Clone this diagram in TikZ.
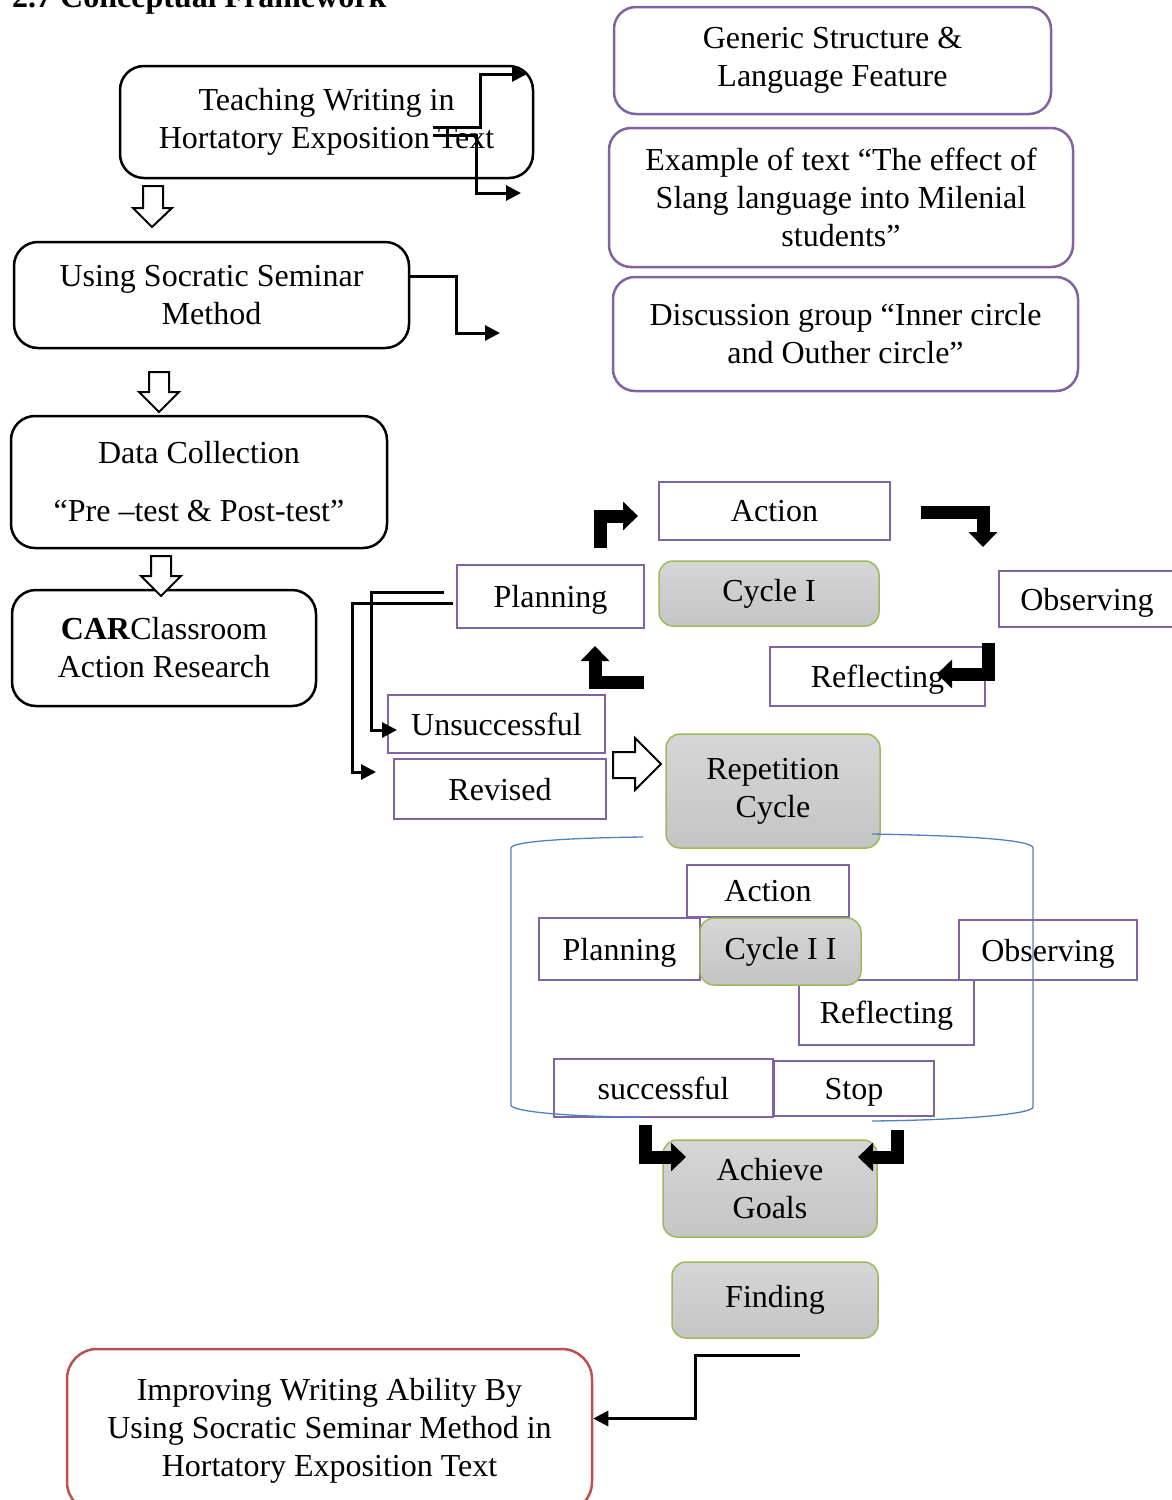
\documentclass[tikz,border=0pt]{standalone}
\usepackage{fontspec}
\setmainfont{Liberation Serif}
\usepackage{xcolor}
\usepackage{tikz}
\usetikzlibrary{arrows.meta, calc}
\definecolor{BoxPurple}{rgb}{0.50, 0.39, 0.64}
\definecolor{LeafGreen}{rgb}{0.61, 0.73, 0.35}
\definecolor{SoftRed}{rgb}{0.75, 0.31, 0.30}
\definecolor{LineBlue}{rgb}{0.31, 0.51, 0.74}

\begin{document}
\begin{tikzpicture}[x=1pt, y=-1pt, font=\fontsize{32}{38}\selectfont,
		every node/.style={align=center, inner sep=0pt},
		blackbox/.style={draw, line width=2.5pt, rounded corners=24pt},
		purplebox/.style={draw=BoxPurple, line width=2.5pt, rounded corners=22pt},
		stage/.style={draw=BoxPurple, line width=2.5pt, fill=white, text depth=0pt},
		greybox/.style={draw=LeafGreen, line width=1.5pt, rounded corners=14pt, top color=gray!32, bottom color=gray!46},
		redbox/.style={draw=SoftRed, line width=2.5pt, rounded corners=30pt},
		linkarrow/.style={line width=3pt, -{Triangle[length=15pt, width=15pt]}},
		blockarrow/.style={line width=13pt, -{Triangle[length=15pt, width=28pt]}},
		hollowarrow/.style={draw, line width=2pt, fill=white}]
		\useasboundingbox (0,0) rectangle (1172,1500);
		
		\node [anchor=base west, font=\fontsize{32}{38}\selectfont\bfseries] (title) at (12,7) {2.7 Conceptual Framework};
		
		\node [blackbox, minimum width=413pt, minimum height=112pt] (teach) at (326.5,122) {Teaching Writing in\\Hortatory Exposition Text};
		\node [blackbox, minimum width=395pt, minimum height=106pt] (using) at (211.5,295) {Using Socratic Seminar\\Method};
		\node [blackbox, minimum width=376pt, minimum height=132pt] (data) at (199,482) {Data Collection\\[20pt]“Pre –test \& Post-test”};
		\node [blackbox, minimum width=304pt, minimum height=116pt] (car) at (164,648) {\textbf{CAR}Classroom\\Action Research};
		
		\node [purplebox, minimum width=437pt, minimum height=107pt] (generic) at (832.5,60.5) {Generic Structure \&\\Language Feature};
		\node [purplebox, minimum width=464pt, minimum height=139pt] (example) at (841,197.5) {Example of text “The effect of\\Slang language into Milenial\\students”};
		\node [purplebox, minimum width=465pt, minimum height=114pt] (discuss) at (845.5,334) {Discussion group “Inner circle\\and Outher circle”};
		
		\node [stage, minimum width=231pt, minimum height=58pt] (actone) at (774.5,511) {Action};
		\node [stage, minimum width=187pt, minimum height=63pt] (planone) at (550.5,596.5) {Planning};
		\node [greybox, minimum width=220pt, minimum height=65pt] (cycone) at (769,593.5) {Cycle I};
		\node [stage, minimum width=176pt, minimum height=56pt] (obsone) at (1087,599) {Observing};
		\node [stage, minimum width=215pt, minimum height=59pt] (reflone) at (877.5,676.5) {Reflecting};
		\node [stage, minimum width=217pt, minimum height=58pt] (unsucc) at (496.5,724) {Unsuccessful};
		\node [stage, minimum width=212pt, minimum height=60pt] (revised) at (500,789) {Revised};
		\node [greybox, minimum width=214pt, minimum height=114pt] (repeat) at (773,791) {Repetition\\Cycle};
		
		\node [stage, minimum width=162pt, minimum height=52pt] (acttwo) at (768,891) {Action};
		\node [stage, minimum width=161pt, minimum height=62pt] (plantwo) at (619.5,949) {Planning};
		\node [stage, minimum width=175pt, minimum height=65pt] (refltwo) at (886.5,1012.5) {Reflecting};
		\node [stage, minimum width=178pt, minimum height=60pt] (obstwo) at (1048,950) {Observing};
		\node [greybox, minimum width=161pt, minimum height=67pt] (cyctwo) at (780.5,951.5) {Cycle I I};
		\node [stage, minimum width=219pt, minimum height=58pt] (succ) at (663.5,1088) {successful};
		\node [stage, minimum width=160pt, minimum height=55pt] (stop) at (854,1088.5) {Stop};
		
		\node [greybox, minimum width=214pt, minimum height=97pt] (achieve) at (770,1188.5) {Achieve\\Goals};
		\node [greybox, minimum width=206pt, minimum height=76pt] (finding) at (775,1300) {Finding};
		\node [redbox, minimum width=525pt, minimum height=163pt] (improve) at (329.5,1430.5) {Improving Writing Ability By\\Using Socratic Seminar Method in\\Hortatory Exposition Text};
		
		\draw [LineBlue, line width=1.3pt] (643,837) .. controls (560,838) and (511,842) .. (511,848) -- (511,1105) .. controls (511,1112) and (575,1117) .. (643,1117);
		\draw [LineBlue, line width=1.3pt] (872,834) .. controls (985,836) and (1033,841) .. (1033,848) -- (1033,1107) .. controls (1033,1114) and (965,1120) .. (872,1121);
		
		\draw [hollowarrow] (143,186) -- (163,186) -- (163,208) -- (172,208) -- (152,227) -- (133,208) -- (143,208) -- cycle;
		\draw [hollowarrow] (149,372) -- (169,372) -- (169,392) -- (179,392) -- (159,412) -- (139,392) -- (149,392) -- cycle;
		\draw [hollowarrow] (151,556) -- (171,556) -- (171,576) -- (181,576) -- (161,596) -- (141,576) -- (151,576) -- cycle;
		\draw [hollowarrow] (613,752) -- (635,752) -- (635,738) -- (661,764) -- (635,790) -- (635,778) -- (613,778) -- cycle;
		
		\coordinate (tina) at (433,127);
		\coordinate (tinb) at (527,74);
		\coordinate (touta) at (433,135);
		\coordinate (toutb) at (521,193);
		\coordinate (useb) at (500,333);
		\coordinate (plana) at (444,592);
		\coordinate (planb) at (453,603);
		\coordinate (unsb) at (397,730);
		\coordinate (revb) at (376,772);
		\coordinate (finda) at (800,1355);
		
		\draw [linkarrow] (tina) -- ++(47,0) |- (tinb);
		\draw [linkarrow] (touta) -- ++(43,0) |- (toutb);
		\draw [linkarrow] ($(using.east)+(0,-19)$) -- ++(46,0) |- (useb);
		\draw [linkarrow] (plana) -- ++(-73,0) |- (unsb);
		\draw [linkarrow] (planb) -- ++(-101,0) |- (revb);
		\draw [linkarrow] (finda) -- ++(-105,0) |- ($(improve.east)+(0,-12)$);
		
		\coordinate (kia) at (600,548);
		\coordinate (kib) at (638,516);
		\coordinate (kiia) at (921,512);
		\coordinate (kiib) at (983,547);
		\coordinate (kiiia) at (988,643);
		\coordinate (kiiib) at (937,674);
		\coordinate (kiva) at (644,682);
		\coordinate (kivb) at (595,646);
		\coordinate (kva) at (645,1125);
		\coordinate (kvb) at (686,1157);
		\coordinate (kvia) at (897,1130);
		\coordinate (kvib) at (858,1157);
		
		\draw [blockarrow] (kia) |- (kib);
		\draw [blockarrow] (kiia) -| (kiib);
		\draw [blockarrow] (kiiia) |- (kiiib);
		\draw [blockarrow] (kiva) -| (kivb);
		\draw [blockarrow] (kva) |- (kvb);
		\draw [blockarrow] (kvia) |- (kvib);
	\end{tikzpicture}
\end{document}
